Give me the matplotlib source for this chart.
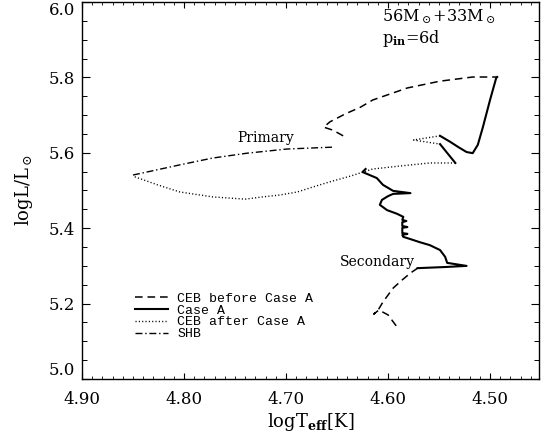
import matplotlib
matplotlib.use("Agg")
import matplotlib.pyplot as plt
from matplotlib.ticker import MultipleLocator, FormatStrFormatter
from matplotlib.lines import Line2D

plt.rcParams['font.family'] = ['DejaVu Serif']
plt.rcParams['mathtext.fontset'] = 'dejavuserif'
plt.rcParams['lines.scale_dashes'] = False

# ---- Primary star track ----
p_ceb_before_T = [4.644, 4.654, 4.663, 4.657, 4.642, 4.627, 4.615, 4.581, 4.549, 4.517, 4.493]
p_ceb_before_L = [5.645, 5.660, 5.668, 5.682, 5.703, 5.721, 5.740, 5.772, 5.790, 5.801, 5.801]

p_caseA1_T = [4.493, 4.494, 4.500, 4.507, 4.512, 4.517, 4.523, 4.531, 4.539, 4.549]
p_caseA1_L = [5.801, 5.798, 5.740, 5.668, 5.621, 5.599, 5.602, 5.615, 5.629, 5.645]

p_ceb_mid_T = [4.549, 4.575, 4.549]
p_ceb_mid_L = [5.645, 5.634, 5.623]

p_caseA2_T = [4.549, 4.534]
p_caseA2_L = [5.623, 5.573]

p_ceb_after_T = [4.534, 4.559, 4.588, 4.615, 4.637, 4.657, 4.674, 4.689, 4.706, 4.723,
                 4.740, 4.772, 4.804, 4.826, 4.850]
p_ceb_after_L = [5.573, 5.573, 5.565, 5.557, 5.538, 5.523, 5.509, 5.496, 5.488, 5.483,
                 5.477, 5.483, 5.496, 5.515, 5.538]

p_shb_T = [4.850, 4.804, 4.772, 4.738, 4.699, 4.654]
p_shb_L = [5.541, 5.568, 5.586, 5.599, 5.610, 5.615]

# ---- Secondary star track ----
s_ceb_before_T = [4.592, 4.600, 4.609, 4.614, 4.609, 4.605, 4.595, 4.586, 4.578, 4.571]
s_ceb_before_L = [5.141, 5.170, 5.183, 5.172, 5.186, 5.204, 5.241, 5.263, 5.281, 5.294]

s_caseA_T = [4.571, 4.544, 4.523, 4.542, 4.544, 4.549, 4.559, 4.569, 4.578, 4.585,
             4.586, 4.581, 4.586, 4.586, 4.581, 4.586, 4.586, 4.582, 4.586, 4.585,
             4.591, 4.601, 4.608, 4.606, 4.600, 4.595, 4.578, 4.595, 4.605, 4.611,
             4.618, 4.625, 4.622]
s_caseA_L = [5.294, 5.297, 5.300, 5.308, 5.324, 5.342, 5.355, 5.363, 5.371, 5.377,
             5.382, 5.385, 5.387, 5.401, 5.403, 5.406, 5.416, 5.419, 5.422, 5.430,
             5.438, 5.448, 5.462, 5.475, 5.485, 5.491, 5.493, 5.499, 5.515, 5.533,
             5.541, 5.549, 5.557]

legend_labels = ["CEB before Case A", "Case A", "CEB after Case A", "SHB"]
x_ticks = [4.90, 4.80, 4.70, 4.60, 4.50]
y_ticks = [5.0, 5.2, 5.4, 5.6, 5.8, 6.0]

DASH = (0, (5.5, 3.5))
DOT = (0, (0.8, 1.6))
DASHDOT = (0, (5, 2, 1, 2))

fig = plt.figure(figsize=(5.44, 4.43), dpi=100)
ax = fig.add_axes([0.1507, 0.1445, 0.8401, 0.851])

k = 'black'
ax.plot(p_ceb_before_T, p_ceb_before_L, color=k, lw=1.1, linestyle=DASH)
ax.plot(p_caseA1_T, p_caseA1_L, color=k, lw=1.5, linestyle='-')
ax.plot(p_ceb_mid_T, p_ceb_mid_L, color=k, lw=1.0, linestyle=DOT)
ax.plot(p_caseA2_T, p_caseA2_L, color=k, lw=1.5, linestyle='-')
ax.plot(p_ceb_after_T, p_ceb_after_L, color=k, lw=1.0, linestyle=DOT)
ax.plot(p_shb_T, p_shb_L, color=k, lw=1.0, linestyle=DASHDOT)

ax.plot(s_ceb_before_T, s_ceb_before_L, color=k, lw=1.1, linestyle=DASH)
ax.plot(s_caseA_T, s_caseA_L, color=k, lw=1.5, linestyle='-')

ax.set_xlim(4.90, 4.452)
ax.set_ylim(5.0, 6.0)

ax.set_xticks(x_ticks)
ax.set_yticks(y_ticks)
ax.xaxis.set_minor_locator(MultipleLocator(0.01))
ax.yaxis.set_minor_locator(MultipleLocator(0.05))
ax.xaxis.set_major_formatter(FormatStrFormatter('%.2f'))
ax.yaxis.set_major_formatter(FormatStrFormatter('%.1f'))

ax.tick_params(axis='x', which='major', direction='in', length=4, width=0.8,
               top=True, labelsize=12, pad=9)
ax.tick_params(axis='x', which='minor', direction='in', length=2, width=0.6, top=True)
ax.tick_params(axis='y', which='major', direction='in', length=6, width=0.8,
               right=True, labelsize=12, pad=5)
ax.tick_params(axis='y', which='minor', direction='in', length=3.5, width=0.7, right=True)
for s in ax.spines.values():
    s.set_linewidth(1.0)

ylabels = ax.get_yticklabels()
ylabels[0].set_verticalalignment('bottom')
ylabels[-1].set_verticalalignment('top')

ax.set_xlabel(r'logT$_\mathbf{eff}$[K]', fontsize=13, labelpad=2)
ax.set_ylabel(r'logL/L$_\odot$', fontsize=13, labelpad=10)

ax.text(4.720, 5.639, 'Primary', fontsize=10, ha='center', va='center')
ax.text(4.574, 5.310, 'Secondary', fontsize=10, ha='right', va='center')
ax.text(0.656, 0.960, r'56M$_\odot$+33M$_\odot$', transform=ax.transAxes,
        fontsize=11.5, ha='left', va='center')
ax.text(0.656, 0.902, r'p$_\mathbf{in}$=6d', transform=ax.transAxes,
        fontsize=11.5, ha='left', va='center')

handles = [Line2D([], [], color=k, lw=1.1, linestyle=DASH),
           Line2D([], [], color=k, lw=1.5, linestyle='-'),
           Line2D([], [], color=k, lw=1.0, linestyle=DOT),
           Line2D([], [], color=k, lw=1.0, linestyle=DASHDOT)]
leg = ax.legend(handles, legend_labels, loc='lower left',
                bbox_to_anchor=(0.115, 0.103), frameon=False,
                prop={'family': 'Liberation Mono', 'size': 9.5},
                handlelength=2.5, handletextpad=0.75, labelspacing=-0.04,
                borderpad=0.0, borderaxespad=0.0)

fig.savefig('out.png', dpi=100)
